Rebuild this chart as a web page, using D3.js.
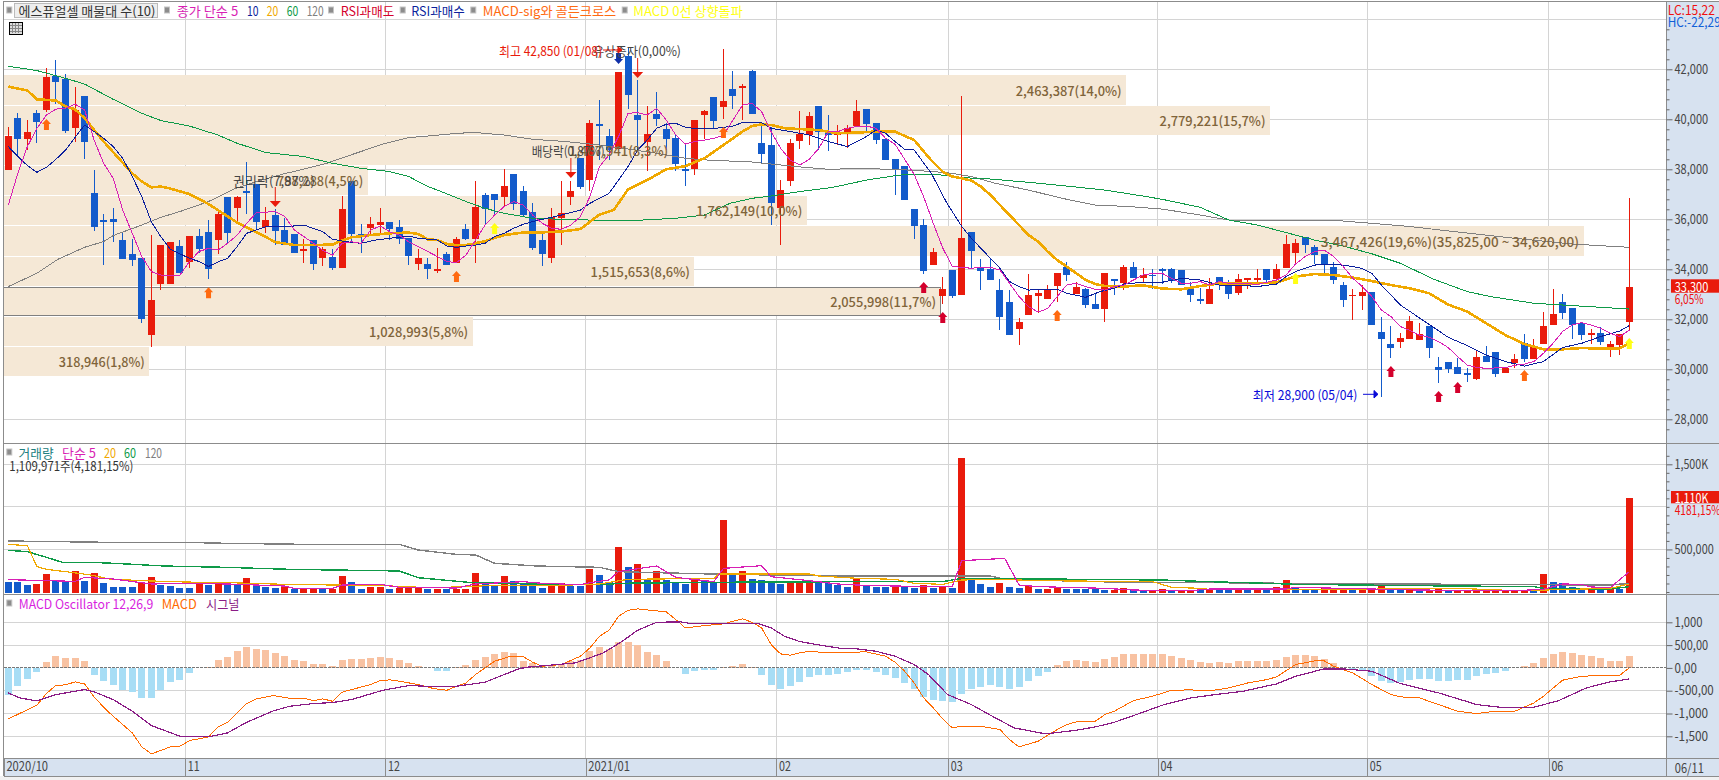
<!DOCTYPE html>
<html>
<head>
<meta charset="utf-8">
<script src="https://cdn.jsdelivr.net/npm/d3@7"></script>
<style>
html, body { margin: 0; padding: 0; background: #fff; overflow: hidden; }
svg { display: block; }
text { font-family: "Noto Sans CJK KR", "Noto Sans", sans-serif; }
</style>
</head>
<body>
<svg id="chart" width="1719" height="780"></svg>
<script>
// daily candles, 2020/10 - 2021/06/11
const open = [37970,40050,39210,40250,40360,41730,41630,39650,40930,37050,35970,36010,35170,34610,34450,31370,33410,33410,34930,34290,35330,35490,35170,36890,36450,37130,37410,35690,36170,35570,35410,34730,35170,34450,34490,34050,37530,35410,35650,35770,35890,35690,35250,34210,34210,33930,34610,34250,35610,35210,36970,37010,36890,37810,37130,36290,35170,34450,36050,36890,38450,37570,39810,39330,38800,42530,40170,39090,40210,39610,39250,38010,38010,40170,40890,40490,41210,41290,41930,39050,38970,36450,37530,39130,39370,40530,39530,39370,39490,39730,40410,39850,39210,38410,38130,36410,35770,34170,32930,33970,32970,35490,34090,34010,33170,32690,31610,32170,32930,32810,33330,34090,33010,33210,32610,32410,33610,33450,34090,33650,33790,34010,34010,33970,33290,32810,32610,33690,33490,33050,33570,33610,34010,33610,34050,34650,35290,34890,34610,34090,33370,32950,32930,33090,31490,31010,31090,31210,31170,31730,30090,30290,30090,29850,29610,30530,30690,29850,30250,31050,30410,31010,31770,32690,32450,31840,31370,31450,30850,30970,31890];
const close = [39330,39210,39490,39890,41690,41490,39530,40370,39090,35690,35890,35890,34410,34370,32010,32770,34970,35090,33850,35330,34810,34010,36210,35450,36890,37050,35890,35970,35530,34970,34650,34810,34210,34810,34050,36410,35410,35370,35810,35890,35610,35210,34530,34450,34010,34010,34170,35210,35210,36490,36410,36770,37330,36610,36170,34850,34610,36090,36250,37130,37290,39850,39730,38770,41890,40970,39970,39410,40010,39210,38210,37970,39970,40330,39930,40730,40930,41330,40210,38610,36650,37170,39050,39410,40130,39490,39370,39450,39650,40330,39810,39170,38370,37970,36770,35730,33930,34690,33210,32930,35250,34730,33930,33570,32090,31370,31890,32970,33050,33170,33850,33770,33290,32570,32410,33850,33570,34090,33650,33770,33750,33930,33530,33370,32970,32770,33210,33450,33010,33610,33650,33650,33570,34010,35010,35050,34970,34570,34170,33570,32770,32975,33090,31770,31210,30850,31250,31930,31410,30850,29970,30010,29810,29770,30490,30290,29810,30050,30410,30410,30890,31730,32210,32250,31770,31370,31450,31090,31010,31410,33300];
const high = [39700,40270,39970,40370,42050,42370,41810,41290,40930,37970,36210,36450,35490,35200,34450,35370,34970,35090,35170,35330,35610,35970,36410,36890,36930,38290,37410,36490,36410,36050,35410,35200,35170,34890,34810,36930,37530,35810,36090,36440,35890,35970,35250,34810,34450,34850,34690,35310,35810,37530,37070,37010,38010,37810,37330,36650,35440,36450,37530,37530,38450,39970,40770,39600,41890,42850,41570,40530,41090,39850,39400,39040,39970,40370,40890,42800,41950,41410,41970,39730,39700,37570,39210,40350,40310,40530,40170,39770,39770,40770,40430,39850,39210,38410,38130,36410,36010,34850,33690,33970,40930,35490,34410,34410,33610,33170,32050,33810,33210,33370,33850,34290,33490,33270,33010,33850,33610,34170,34290,34050,34010,34040,34070,33970,33490,33250,33670,33690,33570,33810,33650,34010,34010,34210,35370,35210,35290,34970,34610,34290,33490,33210,33360,33090,32090,31730,31450,32130,31850,31730,30490,30290,30440,30050,30730,30930,30690,30050,30610,31410,31210,32290,33210,33010,32450,31890,31610,31690,31130,31410,36850];
const low = [37970,38500,38770,39070,40310,40610,39470,39090,38430,35550,34170,35110,34410,34130,31870,30910,33170,33410,33850,34050,34650,33610,34610,35040,35810,36210,35610,35470,34970,34970,34650,34250,33970,34130,33970,34050,35040,34670,35370,35410,35170,35010,34170,33970,33610,33850,34170,34250,35170,34250,35770,36170,36530,36370,36130,34770,34130,34250,34970,36570,37210,37130,38370,38370,38800,40410,38770,37950,39730,38770,37950,37340,37760,39210,39610,40010,40410,39970,40210,38240,35770,34970,37330,38810,38960,38770,38750,38970,38840,39730,39510,39010,38370,36970,36770,35210,33810,34170,32610,32850,32970,34010,33170,33570,31570,31370,30970,32170,32270,32810,32690,33530,33010,32450,32410,31890,32970,33170,33650,33440,33210,33410,33450,33370,32690,32610,32610,33170,32810,32970,33210,33370,33410,33610,34050,34250,34650,34210,33810,33410,32490,31970,32370,31770,28900,30450,30850,31210,31170,30450,29450,29850,29810,29490,29570,30290,29690,29850,30050,30290,30410,31010,31770,32010,31210,31170,31010,30970,30490,30570,31590];

// price averages, [candle number, price] at the bends of each line
const ma5 = [[0,36570],[1,37840],[2,38910],[3,39640],[4,40170],[5,40410],[6,40440],[7,40610],[8,40370],[9,39170],[10,38240],[11,37640],[12,36370],[13,35440],[14,34510],[15,33910],[16,33770],[18,33770],[19,34310],[20,34710],[21,34840],[22,34770],[23,35040],[24,35370],[25,35840],[26,36260],[28,36310],[29,36110],[30,35570],[32,35040],[33,34750],[34,34570],[35,35040],[36,35100],[37,35040],[38,35570],[39,35730],[40,35500],[41,35370],[42,35100],[43,34910],[44,34710],[45,34510],[46,34310],[47,34270],[48,34570],[49,35170],[50,35770],[51,36170],[52,36510],[53,36710],[54,36570],[55,36170],[56,35840],[57,35640],[58,35600],[59,35770],[60,36110],[61,36910],[62,38110],[63,38570],[64,39310],[65,40240],[66,40270],[67,40170],[68,40440],[69,39970],[70,39370],[71,39010],[72,39110],[73,39170],[74,39240],[75,39370],[76,39970],[77,40570],[78,40640],[79,40310],[80,39500],[81,38840],[82,38370],[83,38170],[84,38400],[85,38840],[86,39510],[87,39510],[88,39640],[89,39710],[90,39730],[91,39640],[92,39240],[93,39000],[94,38400],[95,37800],[96,36900],[97,35840],[98,34850],[99,34110],[100,34080],[101,34040],[102,34080],[103,34080],[104,33970],[105,33440],[106,32910],[107,32510],[108,32290],[109,32430],[110,32910],[111,33370],[112,33440],[113,33310],[114,33200],[115,33170],[116,33310],[117,33370],[118,33570],[119,33770],[120,33840],[121,33840],[122,33640],[123,33440],[124,33440],[125,33510],[126,33370],[127,33510],[128,33440],[129,33440],[131,33400],[133,33570],[134,33770],[135,34210],[136,34510],[137,34710],[138,34770],[139,34510],[140,34110],[141,33640],[142,33310],[143,32910],[144,32370],[145,32110],[146,31710],[147,31550],[148,31370],[149,31280],[150,31110],[151,30870],[152,30510],[153,30170],[154,30070],[155,30040],[157,30070],[158,30160],[159,30210],[160,30310],[161,30640],[162,31040],[163,31510],[164,31770],[165,31870],[166,31770],[167,31640],[168,31440],[169,31310],[170,31570]];
const ma10 = [[0,38910],[1,38510],[2,38150],[3,37880],[4,38080],[5,38400],[6,38770],[7,39280],[8,39770],[9,39510],[10,39240],[11,38910],[12,38440],[13,37710],[14,36910],[15,35900],[16,35300],[17,34800],[19,34440],[20,34310],[21,34110],[22,34300],[23,34440],[24,34910],[25,35440],[26,35570],[27,35700],[29,35700],[31,35770],[33,35500],[34,35200],[35.5,35100],[37,35040],[38.5,35170],[40,35240],[42,35330],[43,35240],[45,35170],[46,34930],[47,34880],[48,34930],[49,34970],[50,35040],[51,35310],[52,35440],[53,35640],[54,35800],[55,35910],[56,36000],[57,36080],[58,36170],[59,36270],[60,36370],[61,36640],[62,36840],[63,37040],[64,37570],[65,38110],[66,38770],[67,39170],[68,39640],[69,39800],[70,39840],[71,39680],[72,39630],[74,39630],[76,39730],[77,39870],[79,39870],[80,39640],[82,39510],[84,39370],[85,39240],[86,39110],[88,38910],[89,39110],[90,39310],[91,39570],[92,39440],[93,39110],[94,38800],[95,38770],[96.8,37840],[98.4,36670],[100,35710],[101,35240],[102,34840],[103,34440],[104,34040],[105,33510],[106,33310],[107,33170],[109,33200],[110,33200],[111,33040],[113,32880],[114.5,33110],[116,33240],[117,33410],[119,33480],[121,33480],[123,33640],[125,33570],[127,33370],[129,33370],[131,33310],[133,33410],[134,33710],[135,33910],[137,34170],[139,34210],[141,34110],[142,34030],[143,33840],[144,33370],[145,32970],[146,32570],[147,32310],[149,31800],[151,31280],[153,30950],[155,30570],[157,30310],[159,30130],[161,30310],[163,30870],[165,31040],[167,31310],[169,31530],[170,31750]];
const ma20 = [[0,41310],[2,41150],[3,40800],[5,40750],[6,40510],[7,40400],[8,40040],[10,39110],[13,37840],[14,37510],[15,37280],[16,37310],[17,37230],[19,37010],[21,36610],[24,35870],[26,35490],[28,35090],[30,34970],[32,34970],[34,34990],[35,35150],[36,35280],[38,35370],[40,35440],[42,35470],[43,35410],[44,35200],[45,35170],[46,35010],[47,34970],[48,34970],[49,35040],[50,35130],[52,35370],[54,35470],[56,35480],[58,35510],[60,35610],[62,36190],[63.5,36370],[65,37200],[67,37570],[69,38000],[71,38130],[73,38440],[75,38970],[77,39510],[78,39730],[79,39800],[80,39770],[81.5,39640],[85,39570],[87,39440],[89,39470],[91,39510],[93,39505],[95,39170],[96.7,38400],[98,37900],[99,37710],[100,37640],[101,37550],[102,37310],[103,36970],[104,36570],[105,36170],[106,35770],[107,35370],[108,35110],[109,34710],[110,34370],[111,34110],[112,33840],[113,33570],[114,33410],[115,33330],[117,33310],[119,33360],[121,33230],[123,33200],[125,33330],[127,33430],[129,33440],[131,33440],[133,33470],[134,33600],[135,33710],[137,33810],[139,33770],[141,33670],[143,33530],[145,33370],[147,33240],[149,33040],[151,32590],[153,32310],[155,31840],[157,31370],[159,31010],[161,30800],[163,30800],[165,30850],[167,30830],[169,30840],[170,31040]];
const ma60 = [[0,42120],[3,41950],[6,41640],[8,41410],[11,40800],[14,40240],[16,39950],[19,39730],[22,39370],[24,39040],[27,38670],[31,38510],[34,38240],[37,38040],[40,37910],[42,37710],[44,37310],[45,37170],[48,36710],[50,36440],[52,36240],[55,36040],[58,36000],[62,35960],[66,35960],[70,36040],[73,36170],[75.7,36640],[78,36840],[80,36930],[83,37110],[86.5,37280],[90,37570],[93.5,37770],[97,37810],[100,37670],[103,37610],[107,37480],[111,37330],[115,37170],[119,36930],[121,36800],[125,36480],[128,35970],[131,35770],[134,35470],[137,35170],[140,34930],[143,34620],[146,34240],[149.5,33600],[153,33110],[155.4,32910],[160,32640],[166.6,32490],[170,32410]];
const ma120 = [[0,33310],[3,33840],[5.2,34400],[8,34880],[10,35110],[11,35350],[14,35770],[16,36080],[18,36310],[21,36710],[23.6,37200],[25.7,37470],[28.8,37810],[30.6,37970],[33.4,38240],[36.2,38610],[39.3,39010],[42,39270],[44,39330],[46.3,39410],[48.7,39480],[52,39370],[55,39200],[58.5,39110],[62,38970],[65,38810],[68,38640],[71,38440],[74,38350],[77.5,38310],[82.6,38110],[86,38000],[89,38030],[93,38000],[97,37910],[99,37840],[101,37710],[103.5,37440],[107,37170],[110.5,36840],[114,36570],[117.5,36510],[121,36410],[125,36170],[128,35970],[132,35950],[135,35970],[139,35960],[143,35840],[147,35710],[152.5,35470],[158,35240],[164,35010],[170,34880]];

// volume in thousands of shares, and the colour of each volume bar, ten per chunk
const volume = [117,117,82,94,211,141,129,246,129,223,105,58,58,58,105,176,82,70,47,47,105,82,105,105,94,164,82,58,47,58,35,47,47,35,35,188,117,35,58,58,35,47,47,58,35,35,35,35,35,223,94,82,188,129,101,78,47,78,101,74,74,270,199,113,528,293,328,152,246,141,117,98,152,141,121,845,199,246,152,141,129,94,121,113,141,129,109,82,54,152,74,58,58,78,58,51,78,51,74,51,1572,160,94,58,105,58,51,78,35,35,47,35,35,35,35,27,27,47,27,27,27,35,27,19,11,27,27,27,27,27,27,27,27,58,141,51,27,27,58,47,35,27,27,35,74,27,27,27,27,27,35,15,15,15,15,15,11,11,11,11,11,211,117,101,58,31,31,31,31,31,1110];
const volumeColor = ['bbbrrbbrbr','bbbbrrbbbb','rbrbbrbbbr','brrbrrbbrr','brrrbrbrrr','bbrbbbbrrb','brbbrbrbrb','bbrbbrbrbb','bbrrrbbbbr','bbbrbbrbrb','rbbbrbbrbr','rbbbbbrrbb','rrbrrbrbbr','brbrrbbbrr','rbrrrbbrbr','rbrrrrrrrr','brbbbbrbrb','r'].join('').split('');

const volMa5 = [[0,145],[7,125],[8,172],[11,153],[15,94],[19,102],[23,94],[29,70],[30,43],[34,43],[35,82],[39,90],[41,55],[47,47],[49,94],[54,121],[56,102],[60,86],[61,110],[63,141],[64,239],[67,290],[68,305],[70,172],[74,121],[75,278],[79,309],[80,180],[84,133],[87,94],[89,82],[93,70],[99,63],[100,368],[104.5,395],[106,82],[108,63],[115,43],[118,23],[124,16],[126,35],[134,35],[135,55],[143,35],[148,23],[158,16],[161,31],[163,94],[165,90],[166,59],[168,51],[170,239]];
const volMa20 = [[0,560],[2,544],[3,298],[4,266],[6.6,231],[8.6,200],[10.6,153],[14,133],[18.7,117],[23,110],[29,90],[39.4,74],[44,51],[48.6,63],[50,74],[56.7,74],[62,94],[65,149],[74,160],[74.5,211],[84,211],[85,188],[89,161],[93,149],[95,102],[98,90],[100,141],[104,149],[108,133],[120,121],[122,55],[125,43],[126,31],[143,31],[145,43],[152,43],[158,16],[161,23],[168,43],[170,94]];
const volMa60 = [[0,489],[2,474],[4,407],[5.7,348],[9.5,345],[12.4,329],[16.4,305],[22.7,290],[29.6,266],[41,247],[43,168],[48.6,110],[57,90],[63,90],[64,102],[74,114],[89,121],[98,121],[100,161],[108,153],[121,141],[126,121],[132,102],[135,90],[148,74],[160,63],[161,43],[168,35],[170,63]];
const volMa120 = [[0,599],[5.5,591],[10.6,583],[18.7,583],[22.7,572],[31,560],[41,560],[43,493],[47,442],[49,435],[51,337],[55.5,305],[62,290],[64,239],[68,227],[74,211],[84,192],[89,188],[103,188],[104,161],[107,141],[117,114],[122,114],[134,102],[152.5,90],[160,86],[168,82],[170,102]];

// MACD oscillator for every candle, MACD and signal at the bends
const oscillator = [-585,-387,-234,-80,139,270,227,227,161,-146,-278,-365,-475,-519,-651,-651,-475,-300,-256,-102,-10,29,183,249,380,468,424,402,336,270,183,161,95,95,51,183,205,205,227,249,227,183,117,51,-5,-58,-58,22,73,183,249,314,358,336,161,110,51,73,95,146,183,380,460,417,570,577,497,358,292,161,0,-124,-73,-37,-37,29,51,95,29,-146,-365,-453,-387,-300,-190,-146,-146,-124,-95,-37,-37,-80,-146,-212,-322,-453,-643,-694,-716,-738,-563,-453,-409,-365,-409,-453,-409,-278,-168,-80,73,161,183,161,139,205,249,314,314,314,314,314,270,227,183,139,117,139,117,161,161,161,161,183,249,292,292,270,205,117,-5,-37,-73,-183,-278,-322,-300,-256,-234,-234,-278,-278,-256,-256,-168,-124,-102,-58,-5,51,117,227,314,358,336,292,270,227,161,161,270];
const macd = [[0,-1118],[3,-819],[4,-563],[5,-380],[6,-373],[7,-307],[8,-351],[9,-636],[10.3,-928],[11.4,-1133],[13,-1425],[14,-1732],[15,-1886],[17,-1732],[18,-1718],[19,-1594],[21,-1513],[22,-1294],[23,-1192],[24,-987],[25,-782],[26,-680],[27.8,-607],[29.5,-665],[31,-665],[32,-716],[33,-680],[34,-731],[35,-534],[36,-475],[38,-365],[39,-278],[40,-263],[41,-292],[43,-365],[44.6,-453],[46,-490],[47,-402],[48,-329],[49,-146],[51,146],[52.6,249],[54,249],[55,124],[56,37],[58,73],[60,256],[61,439],[62,694],[63,826],[64,1133],[65,1265],[66,1294],[68,1250],[69,1228],[70,1060],[71,877],[73,928],[75,965],[76,1023],[77,1075],[78,1001],[79,877],[80,512],[81,307],[82,278],[83,329],[84,365],[86,329],[88,344],[90,351],[92,256],[93,124],[94,-73],[95,-329],[96,-658],[97,-877],[98,-1118],[99,-1316],[100,-1279],[102,-1279],[104,-1352],[105,-1572],[106,-1732],[108,-1608],[110,-1352],[111,-1243],[112,-1184],[114,-1170],[115,-1023],[116,-950],[118,-716],[120,-621],[122,-490],[124,-482],[126,-504],[128,-439],[130,-329],[132,-256],[133,-197],[135,73],[137,154],[138,154],[139,37],[141,-110],[143,-365],[145,-585],[146,-636],[148,-658],[150,-804],[152,-950],[154,-1001],[156,-950],[158,-950],[160,-768],[161,-621],[163,-270],[165,-183],[167,-168],[169,-161],[170,0]];
const signal = [[0,-548],[1.2,-658],[3,-724],[5,-585],[8,-475],[9,-526],[11,-694],[13,-950],[15,-1265],[16.6,-1389],[18,-1499],[21,-1513],[23,-1425],[25,-1192],[27.8,-943],[29.5,-841],[32,-782],[34,-760],[36,-694],[39.3,-490],[42,-387],[44.6,-409],[47,-402],[50,-314],[53.5,-22],[54.4,15],[59.5,110],[62.4,329],[64.4,585],[66,826],[68,1001],[70.5,1009],[71.6,972],[78.5,980],[80,877],[81.4,694],[83,577],[85.4,490],[87.7,417],[89,417],[91,366],[93,256],[95,73],[96.5,-146],[98.5,-585],[101,-804],[103,-1038],[105.5,-1316],[108.8,-1448],[112,-1367],[114,-1294],[116,-1192],[119,-972],[121,-819],[124,-658],[126.6,-585],[129.5,-512],[133,-351],[135,-183],[138,-22],[140,-22],[143,-73],[146,-344],[150,-548],[154,-804],[157,-877],[160,-863],[162.6,-716],[165.5,-439],[168,-307],[170,-241]];

// price-by-volume bands
const bandHigh = [41772,40532,39332,38132,36932,35732,34492,33252,32092,30892];
const bandLow = [40572,39372,38172,36972,35772,34532,33332,32172,30932,29732];
const bandVolume = [2463387,2779221,1467941,798288,1762149,3467426,1515653,2055998,1028993,318946];
const bandLabel = ['2,463,387(14,0%)','2,779,221(15,7%)','1,467,941(8,3%)','798,288(4,5%)','1,762,149(10,0%)','3,467,426(19,6%)(35,825,00 ~ 34,620,00)','1,515,653(8,6%)','2,055,998(11,7%)','1,028,993(5,8%)','318,946(1,8%)'];

// signal arrows: candle number and price at the tip
const goldenCross = [[4,40010],[21,33280],[47,33930],[75,39690],[110,32370],[159,29970]];
const zeroCross = [[51,35850],[135,33850],[170,31250]];
const rsiLow = [[96,33490],[98,32290],[145,30130],[150,29130],[152,29490]];
const exDates = [[28,36490],[59,37650],[66,41650]];
const rsiHigh = [[64,42210]];

const monthTicks = [-0.48,18.55,39.55,60.55,80.55,98.55,120.55,142.5,161.55];
const monthLabels = ['2020/10','11','12','2021/01','02','03','04','05','06'];
const priceTicks = [44000,42000,40000,38000,36000,34000,32000,30000,28000];
const volumeTicks = [500,1000,1500];
const macdTicks = [1000,500,0,-500,-1000,-1500];
const macdTickLabels = ['1,000','500,00','0,00','-500,00','-1,000','-1,500'];

const RED = '#e91b0c', BLUE = '#135bcb', GRID = '#d4d4d4', FRAME = '#8c8c8c', AXIS_BG = '#d7e2f0';
const MAGENTA = '#d81fb4', NAVY = '#0b1f9c', ORANGE = '#f0a800', GREEN = '#0e9a48', GRAY = '#808080';
const LEFT = 3.5, RIGHT = 1666.5, FONT_SIZE = 13;

const svg = d3.select('#chart');
const x = d3.scaleLinear().domain([0, 170]).range([8.3, 1629.3]);
const y = d3.scaleLinear().domain([42000, 30000]).range([69.3, 369.3]);
const yVol = d3.scaleLinear().domain([0, 1500]).range([592, 464.3]);
const yMacd = d3.scaleLinear().domain([-1500, 1000]).range([736.3, 622.3]);
const xBand = d3.scaleLinear().domain([0, 3467426]).range([LEFT, 1583]);

function label(s, px, py, color, width, anchor) {
    const t = svg.append('text').attr('x', px).attr('y', py)
        .attr('dominant-baseline', 'central').attr('fill', color).attr('font-size', FONT_SIZE).text(s);
    if (width) t.attr('textLength', width).attr('lengthAdjust', 'spacingAndGlyphs');
    if (anchor) t.attr('text-anchor', anchor);
    return t;
}

function drawLine(rows, py, color, width) {
    const line = d3.line().x(d => x(d[0])).y(d => py(d[1]));
    svg.append('path').attr('d', line(rows)).attr('fill', 'none').attr('stroke', color)
        .attr('stroke-width', width).attr('shape-rendering', 'crispEdges').attr('stroke-linejoin', 'round');
}

function bullet(px, py) {
    svg.append('rect').attr('x', px - 2.5).attr('y', py - 3).attr('width', 5).attr('height', 6)
        .attr('fill', '#8c8c8c').attr('stroke', '#c4c4c4');
}

function styleAxis(g) {
    g.select('.domain').remove();
    g.selectAll('line').attr('stroke', '#666');
    g.selectAll('text').attr('font-size', FONT_SIZE).attr('fill', '#454545')
        .attr('font-family', '"Noto Sans CJK KR", sans-serif')
        .attr('textLength', function () { return this.textContent.length * 5.6; })
        .attr('lengthAdjust', 'spacingAndGlyphs');
}

// backgrounds
svg.append('rect').attr('x', 0).attr('y', 0).attr('width', 1719).attr('height', 780).attr('fill', '#fff');
svg.append('rect').attr('x', RIGHT).attr('y', 1).attr('width', 1719 - RIGHT).attr('height', 775).attr('fill', AXIS_BG);
svg.append('rect').attr('x', LEFT).attr('y', 758).attr('width', 1719 - LEFT).attr('height', 18).attr('fill', AXIS_BG);
svg.append('rect').attr('x', 0).attr('y', 776).attr('width', 1719).attr('height', 4).attr('fill', '#f1f1f1');

// grid
const gridG = svg.append('g').attr('stroke', GRID).attr('shape-rendering', 'crispEdges');
priceTicks.forEach(p => gridG.append('line').attr('x1', LEFT).attr('x2', RIGHT).attr('y1', y(p)).attr('y2', y(p)));
volumeTicks.forEach(v => gridG.append('line').attr('x1', LEFT).attr('x2', RIGHT).attr('y1', yVol(v)).attr('y2', yVol(v)));
macdTicks.filter(v => v !== 0).forEach(v => gridG.append('line').attr('x1', LEFT).attr('x2', RIGHT).attr('y1', yMacd(v)).attr('y2', yMacd(v)));
monthTicks.slice(1).forEach(m => gridG.append('line').attr('x1', x(m)).attr('x2', x(m)).attr('y1', 1).attr('y2', 758));

// price-by-volume bands
svg.append('g').selectAll('rect').data(bandVolume).join('rect')
    .attr('x', LEFT + 0.5).attr('y', (d, i) => y(bandHigh[i]))
    .attr('width', d => xBand(d) - LEFT)
    .attr('height', (d, i) => y(bandLow[i]) - y(bandHigh[i]))
    .attr('fill', '#f5e8d6').attr('shape-rendering', 'crispEdges');

// the band with the last price carries a border
svg.append('path').attr('fill', 'none').attr('stroke', '#808080').attr('shape-rendering', 'crispEdges')
    .attr('d', `M${LEFT},${y(bandHigh[7]) - 0.5}H${xBand(bandVolume[7])}V${y(bandLow[7]) + 0.5}H${LEFT}`);

// candles
const candles = svg.append('g').attr('shape-rendering', 'crispEdges');
d3.range(open.length).forEach(i => {
    const col = close[i] >= open[i] ? RED : BLUE;
    candles.append('line').attr('x1', x(i)).attr('x2', x(i)).attr('y1', y(high[i])).attr('y2', y(low[i])).attr('stroke', col);
    candles.append('rect').attr('x', x(i) - 3.5).attr('width', 7)
        .attr('y', y(Math.max(open[i], close[i])))
        .attr('height', Math.max(1.5, Math.abs(y(open[i]) - y(close[i]))))
        .attr('fill', col);
});

drawLine(ma120, y, GRAY, 1);
drawLine(ma60, y, GREEN, 1);
drawLine(ma20, y, ORANGE, 2.6);
drawLine(ma10, y, NAVY, 1);
drawLine(ma5, y, MAGENTA, 1);

// arrows
const upArrow = 'M0,0L4.5,5H2.5V11H-2.5V5H-4.5Z';
const fatDown = 'M0,0L-4.5,-5H-2.5V-11H2.5V-5H4.5Z';
const thinDown = 'M0,0L-5.5,-6H-0.5V-20H0.5V-6H5.5Z';
function arrows(rows, shape, color) {
    svg.append('g').selectAll('path').data(rows).join('path')
        .attr('d', shape).attr('fill', color)
        .attr('transform', d => `translate(${x(d[0])},${y(d[1])})`);
}
arrows(goldenCross, upArrow, '#ff6a10');
arrows(zeroCross, upArrow, '#ffff14');
arrows(rsiLow, upArrow, '#d4002c');
arrows(exDates, thinDown, RED);
arrows(rsiHigh, fatDown, '#1030a8');

// band labels and event notes sit on top of the candles
bandLabel.forEach((s, i) => {
    const h = (y(bandHigh[i]) + y(bandLow[i])) / 2;
    label(s, xBand(bandVolume[i]) - 4, h, '#80643a', s.length * 6.62, 'end').attr('font-weight', 500);
});
label('권리락(7,87%)', 233, 180, '#444', 82);
label('배당락(0,87%)', 531.7, 150.7, '#444', 73);
label('유상증자(0,00%)', 593, 50, '#444', 88);
label('최고 42,850 (01/08)', 499, 50, RED, 103);
svg.append('path').attr('d', 'M603,50H618M618,47L622,50L618,53Z').attr('stroke', RED).attr('fill', RED);
label('최저 28,900 (05/04)', 1252.7, 394.3, '#0a0ad8', 104.6);
svg.append('path').attr('d', 'M1363,394.3H1374M1374,390.5L1378,394.3L1374,398Z').attr('stroke', '#0a0ad8').attr('fill', '#0a0ad8');

// volume panel
svg.append('g').attr('shape-rendering', 'crispEdges').selectAll('rect').data(volume).join('rect')
    .attr('x', (d, i) => x(i) - 3.5).attr('width', 7)
    .attr('y', d => yVol(d)).attr('height', d => 593 - yVol(d))
    .attr('fill', (d, i) => volumeColor[i] === 'r' ? RED : BLUE);
drawLine(volMa120, yVol, GRAY, 1.4);
drawLine(volMa60, yVol, GREEN, 1.4);
drawLine(volMa20, yVol, ORANGE, 1.2);
drawLine(volMa5, yVol, MAGENTA, 1.2);

// MACD panel
svg.append('g').attr('shape-rendering', 'crispEdges').selectAll('rect').data(oscillator).join('rect')
    .attr('x', (d, i) => x(i) - 3.5).attr('width', 7)
    .attr('y', d => d >= 0 ? yMacd(d) : yMacd(0))
    .attr('height', d => Math.abs(yMacd(d) - yMacd(0)))
    .attr('fill', d => d >= 0 ? '#f8c2a2' : '#a7ddf5');
svg.append('line').attr('x1', LEFT).attr('x2', RIGHT).attr('y1', yMacd(0)).attr('y2', yMacd(0))
    .attr('stroke', '#777').attr('stroke-dasharray', '3,1').attr('shape-rendering', 'crispEdges');
drawLine(macd, yMacd, '#ff6a00', 1);
drawLine(signal, yMacd, '#8a1c86', 1.2);

// frame and panel separators
const frame = svg.append('g').attr('stroke', FRAME).attr('shape-rendering', 'crispEdges');
[1, 443.5, 594, 758].forEach(py => frame.append('line').attr('x1', LEFT).attr('x2', 1719).attr('y1', py).attr('y2', py));
frame.append('line').attr('x1', LEFT).attr('x2', LEFT).attr('y1', 1).attr('y2', 776);
frame.append('line').attr('x1', RIGHT).attr('x2', RIGHT).attr('y1', 1).attr('y2', 776);
frame.append('line').attr('x1', LEFT).attr('x2', 1719).attr('y1', 776).attr('y2', 776);

// right axes
const priceAxis = d3.axisRight(y).tickValues(priceTicks.slice(1)).tickSize(6).tickPadding(2).tickFormat(d3.format(','));
styleAxis(svg.append('g').attr('transform', `translate(${RIGHT},0)`).call(priceAxis));
const priceMinor = d3.axisRight(y).tickValues(d3.range(27600, 44000, 400).filter(p => p % 2000 !== 0)).tickSize(3).tickFormat('');
styleAxis(svg.append('g').attr('transform', `translate(${RIGHT},0)`).call(priceMinor));

const volAxis = d3.axisRight(yVol).tickValues([500, 1500]).tickSize(6).tickPadding(2)
    .tickFormat(d => d === 500 ? '500,000' : '1,500K');
styleAxis(svg.append('g').attr('transform', `translate(${RIGHT},0)`).call(volAxis));
const volMinor = d3.axisRight(yVol).tickValues(d3.range(0, 1700, 100).filter(v => v !== 500 && v !== 1500)).tickSize(3).tickFormat('');
styleAxis(svg.append('g').attr('transform', `translate(${RIGHT},0)`).call(volMinor));

const macdAxis = d3.axisRight(yMacd).tickValues(macdTicks).tickSize(6).tickPadding(2)
    .tickFormat((d, i) => macdTickLabels[i]);
styleAxis(svg.append('g').attr('transform', `translate(${RIGHT},0)`).call(macdAxis));

// date axis
const dateAxis = d3.axisBottom(x).tickValues(monthTicks).tickSize(18).tickPadding(-14).tickFormat((d, i) => monthLabels[i]);
const dateG = svg.append('g').attr('transform', 'translate(0,758)').call(dateAxis);
dateG.select('.domain').remove();
dateG.selectAll('line').attr('stroke', FRAME).attr('shape-rendering', 'crispEdges');
dateG.selectAll('text').attr('text-anchor', 'start').attr('dx', 2.2).attr('font-size', FONT_SIZE).attr('fill', '#454545')
    .attr('font-family', '"Noto Sans CJK KR", sans-serif')
    .attr('textLength', function () { return this.textContent.length * 5.95; })
    .attr('lengthAdjust', 'spacingAndGlyphs');
label('06/11', 1674.8, 767, '#454545', 29);

// corner and last value tags
label('LC:15,22', 1667.7, 9, '#f01010', 47.3);
label('HC:-22,29', 1667.7, 21.5, '#1060d8', 53);
svg.append('rect').attr('x', 1671).attr('y', 279.3).attr('width', 48).attr('height', 13.4).attr('fill', RED);
label('33,300', 1674.7, 286, '#fff', 33.6);
label('6,05%', 1674.7, 298.7, '#f01010', 29);
svg.append('rect').attr('x', 1671).attr('y', 491).attr('width', 48).attr('height', 12.3).attr('fill', RED);
label('1,110K', 1674.7, 497, '#fff', 33.6);
label('4181,15%', 1674.7, 509, '#f01010', 46);

// top legend
bullet(9.3, 10);
svg.append('rect').attr('x', 14).attr('y', 3.5).attr('width', 143.5).attr('height', 14)
    .attr('fill', '#eeeeee').attr('stroke', '#bbbbbb').attr('shape-rendering', 'crispEdges');
label('에스퓨얼셀 매물대 수(10)', 18.5, 10.7, '#333', 137);
bullet(167, 10);
label('종가 단순 5', 176.7, 10.7, MAGENTA, 61.5);
label('10', 247, 10.7, NAVY, 11.5);
label('20', 266.7, 10.7, ORANGE, 11.5);
label('60', 286.7, 10.7, GREEN, 11.5);
label('120', 306.7, 10.7, GRAY, 17);
bullet(331, 10);
label('RSI과매도', 340.7, 10.7, '#d4002c', 53.5);
bullet(402.7, 10);
label('RSI과매수', 411.3, 10.7, NAVY, 53.5);
bullet(473.3, 10);
label('MACD-sig와 골든크로스', 482.7, 10.7, '#ff6a10', 133.5);
bullet(624.7, 10);
label('MACD 0선 상향돌파', 633.3, 10.7, '#ffff14', 109.5);

// table icon under the legend
const icon = svg.append('g').attr('shape-rendering', 'crispEdges');
icon.append('rect').attr('x', 9.5).attr('y', 22).attr('width', 13).attr('height', 12).attr('fill', '#ddd').attr('stroke', '#000');
[12.5, 15.5, 18.5].forEach(px => icon.append('line').attr('x1', px).attr('x2', px).attr('y1', 23).attr('y2', 33).attr('stroke', '#888'));
[25.5, 28.5, 31].forEach(py => icon.append('line').attr('x1', 10).attr('x2', 22).attr('y1', py).attr('y2', py).attr('stroke', '#888'));

// volume legend
bullet(9.3, 452);
label('거래량', 18.6, 452.3, '#208080', 35);
label('단순 5', 62, 452.3, MAGENTA, 34);
label('20', 104, 452.3, ORANGE, 12);
label('60', 124, 452.3, GREEN, 12);
label('120', 145, 452.3, GRAY, 17);
label('1,109,971주(4,181,15%)', 9.3, 465.5, '#333', 124);

// MACD legend
bullet(9.3, 603);
label('MACD Oscillator 12,26,9', 18.7, 603.3, '#d81fe0', 134.5);
label('MACD', 161.7, 603.3, '#ff6a00', 35);
label('시그널', 206, 603.3, '#8a1c86', 33.5);
</script>
</body>
</html>
